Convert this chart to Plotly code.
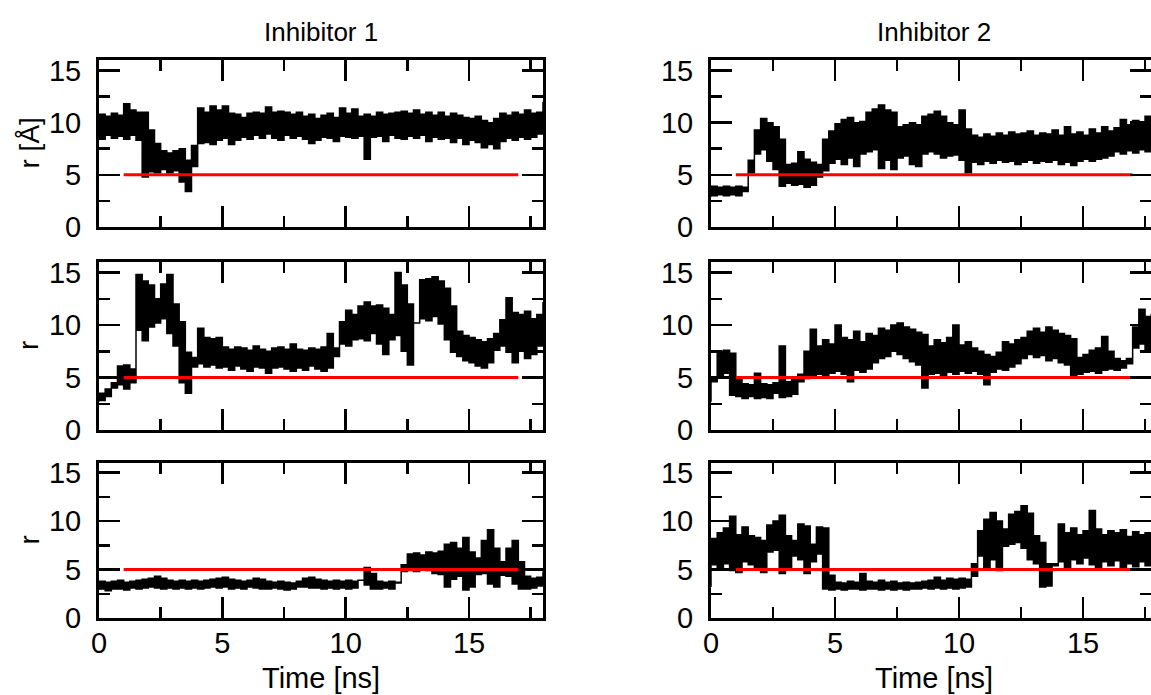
import numpy as np
import plotly.graph_objects as go

# Sampling grid (ns)
time_ns = np.round(np.arange(0, 18.001, 0.25), 2)

# Inhibitor 1, row 1 (r [Å]) lower / upper envelope of the noisy trace
inh1_r1_lo = [8.6, 8.4, 8.8, 8.5, 8.7, 8.4, 8.8, 8.3, 4.8, 5.3, 5.2, 5.5, 5.2, 5.4, 4.3, 3.4,
              7.8, 8.0, 8.1, 7.9, 8.3, 8.5, 7.9, 8.3, 8.6, 8.4, 8.8, 8.5, 8.9, 8.5, 8.3, 8.8,
              8.5, 8.7, 8.4, 8.0, 8.3, 8.6, 8.5, 8.2, 8.7, 8.6, 8.5, 8.7, 6.5, 8.6, 8.7, 8.2,
              8.8, 8.5, 8.4, 8.7, 8.5, 8.8, 8.2, 8.6, 8.4, 8.5, 8.1, 8.5, 7.9, 8.3, 8.1, 7.6,
              7.9, 7.5, 8.2, 8.5, 8.3, 8.6, 8.4, 8.6, 8.9]
inh1_r1_hi = [10.8, 10.6, 10.9, 10.7, 11.8, 11.2, 11.0, 11.0, 9.3, 8.0, 7.3, 7.1, 7.3, 7.5, 6.4, 5.8,
              11.4, 11.0, 11.6, 11.2, 11.6, 10.9, 10.8, 10.5, 10.9, 11.0, 10.9, 11.5, 11.0, 11.1, 11.0, 10.8,
              11.0, 10.6, 10.8, 10.4, 10.7, 10.9, 10.5, 11.4, 10.9, 11.3, 10.6, 10.8, 10.6, 11.0, 10.8, 10.9,
              11.0, 11.1, 10.9, 11.2, 10.8, 11.0, 10.7, 11.0, 10.6, 10.9, 10.7, 10.5, 10.4, 10.6, 10.2, 10.0,
              10.4, 10.9, 10.7, 11.0, 10.8, 11.2, 10.9, 11.0, 12.0]

# Inhibitor 1, row 2
inh1_r2_lo = [2.7, 2.8, 3.2, 4.0, 4.3, 3.9, 4.5, 9.5, 8.5, 9.8, 10.2, 10.6, 9.2, 8.0, 4.5, 3.5,
              6.0, 6.3, 6.0, 6.2, 5.9, 6.0, 5.7, 6.1, 5.8, 5.6, 6.0, 5.9, 5.4, 5.9, 6.0, 5.8,
              5.6, 5.9, 5.7, 6.1, 5.8, 5.6, 5.9, 7.0, 8.2, 8.0, 8.6, 8.7, 8.5, 9.2, 8.2, 7.2,
              8.6, 9.0, 7.5, 6.2, 10.2, 10.6, 10.4, 10.8, 10.1, 8.6, 7.4, 7.0, 6.6, 6.4, 6.1, 5.9,
              6.4, 7.6, 8.0, 7.4, 6.4, 7.5, 6.8, 7.2, 8.0]
inh1_r2_hi = [3.5, 3.9, 4.5, 6.1, 6.2, 5.8, 14.8, 14.2, 13.8, 12.5, 13.9, 14.8, 12.0, 10.3, 7.4, 6.9,
              9.7, 8.8, 8.7, 8.8, 7.9, 7.7, 7.9, 7.8, 7.6, 8.0, 7.7, 7.5, 7.8, 7.9, 7.7, 8.2,
              7.7, 7.6, 7.8, 7.7, 7.9, 9.2, 7.8, 10.3, 11.4, 11.0, 11.8, 12.2, 11.8, 11.9, 11.6, 11.0,
              15.0, 13.8, 12.0, 10.2, 14.3, 14.4, 14.6, 14.2, 13.5, 11.8, 9.4, 9.0, 8.8, 8.6, 8.4, 8.7,
              9.2, 10.5, 12.6, 11.2, 11.0, 11.3, 10.6, 11.0, 12.2]

# Inhibitor 1, row 3
inh1_r3_lo = [2.9, 3.0, 2.8, 3.0, 3.0, 2.9, 3.1, 3.0, 3.1, 3.2, 3.1, 3.0, 3.1, 3.0, 3.1, 3.0,
              3.1, 3.0, 3.1, 3.2, 3.1, 3.2, 3.0, 3.1, 3.0, 3.2, 3.1, 3.0, 3.0, 3.1, 3.0, 2.9,
              3.0, 3.2, 3.2, 3.1, 3.1, 3.0, 3.1, 3.0, 3.1, 3.0, 3.1, 3.9, 3.4, 3.0, 3.0, 3.1,
              3.0, 3.6, 4.8, 4.9, 4.8, 5.0, 4.9, 4.6, 4.5, 3.2, 4.0, 4.3, 2.9, 3.2, 4.5, 4.6,
              3.5, 3.2, 4.4, 4.3, 3.5, 3.0, 3.0, 3.1, 3.3]
inh1_r3_hi = [3.8, 3.7, 3.8, 3.9, 3.7, 3.8, 3.9, 4.0, 4.1, 4.3, 4.1, 3.9, 3.8, 3.9, 3.8, 3.9,
              3.8, 3.9, 4.0, 4.1, 4.2, 4.0, 3.9, 3.8, 3.9, 4.1, 4.0, 3.8, 3.7, 3.8, 3.7, 3.6,
              3.8, 4.1, 4.2, 4.0, 3.9, 3.8, 3.9, 3.8, 3.9, 3.8, 3.9, 5.2, 4.6, 3.8, 3.7, 3.8,
              3.7, 5.5, 6.6, 6.7, 6.5, 6.8, 6.7, 6.9, 7.6, 7.8, 7.2, 8.3, 6.8, 6.2, 8.0, 9.1,
              7.2, 5.8, 7.2, 8.0, 5.8, 4.3, 4.1, 4.2, 4.8]

# Inhibitor 2, row 1
inh2_r1_lo = [2.9, 3.0, 3.1, 3.0, 3.1, 3.0, 3.4, 6.4, 7.0, 7.4, 6.3, 5.5, 3.9, 4.2, 4.0, 4.1,
              3.8, 4.0, 4.8, 5.4, 6.1, 6.5, 6.0, 6.6, 5.8, 7.0, 7.2, 7.4, 5.6, 6.4, 5.5, 6.6,
              6.8, 6.0, 5.8, 7.0, 7.2, 7.0, 6.6, 6.8, 6.9, 6.4, 5.2, 6.2, 6.0, 6.3, 6.1, 6.4,
              6.2, 6.3, 6.0, 6.2, 6.4, 6.1, 6.3, 6.2, 6.4, 6.0, 6.2, 5.9, 6.3, 6.5, 6.3, 6.5,
              6.6, 6.8, 7.2, 7.0, 7.3, 7.1, 7.4, 7.2, 7.3]
inh2_r1_hi = [3.9, 3.8, 3.9, 3.8, 3.9, 3.8, 5.2, 9.3, 10.4, 10.0, 9.6, 8.4, 6.0, 6.1, 7.2, 6.5,
              6.2, 6.0, 8.4, 9.2, 9.9, 10.3, 10.5, 10.0, 10.1, 11.0, 11.3, 11.7, 11.2, 11.0, 9.6, 9.8,
              10.0, 9.8, 10.6, 10.8, 11.1, 10.6, 10.0, 9.8, 11.2, 9.4, 8.8, 8.6, 8.9, 8.7, 9.0, 8.8,
              9.1, 8.9, 9.0, 9.2, 8.8, 9.0, 8.9, 9.3, 8.8, 9.6, 8.9, 9.1, 8.8, 9.4, 9.0, 9.6,
              9.2, 9.5, 10.3, 9.8, 10.2, 9.9, 10.6, 10.0, 10.2]

# Inhibitor 2, row 2
inh2_r2_lo = [2.7, 4.8, 5.2, 5.4, 3.3, 3.2, 3.0, 3.2, 3.0, 3.1, 3.0, 3.5, 3.1, 3.2, 3.4, 4.6,
              4.9, 5.1, 5.3, 5.0, 5.4, 5.6, 5.3, 4.6, 5.7, 5.5, 5.8, 6.4, 6.8, 7.0, 7.5, 7.2,
              6.8, 6.5, 6.2, 4.0, 5.3, 5.4, 5.2, 5.5, 5.3, 5.6, 5.4, 5.6, 5.3, 4.3, 5.5, 5.8,
              5.7, 6.0, 6.3, 6.8, 7.2, 6.9, 7.1, 6.6, 6.8, 6.4, 6.2, 5.1, 5.3, 5.5, 5.6, 5.4,
              5.7, 5.8, 5.7, 5.9, 6.3, 7.8, 8.2, 7.5, 8.0]
inh2_r2_hi = [4.6, 7.5, 7.6, 7.3, 4.8, 4.4, 4.3, 5.4, 4.4, 4.3, 4.5, 8.0, 4.6, 4.9, 5.3, 7.5,
              9.6, 8.0, 8.6, 8.2, 10.0, 8.8, 8.6, 9.4, 8.4, 9.2, 9.0, 9.7, 9.5, 10.0, 10.2, 9.8,
              9.6, 9.3, 9.1, 8.0, 8.6, 8.3, 8.8, 10.0, 8.1, 8.4, 7.8, 7.5, 7.2, 7.0, 7.4, 8.4,
              8.2, 8.6, 8.8, 9.4, 9.7, 9.3, 9.8, 9.5, 9.2, 9.0, 8.7, 6.9, 7.2, 7.6, 7.8, 8.9,
              7.5, 6.8, 6.6, 6.8, 9.8, 11.5, 10.8, 11.0, 10.6]

# Inhibitor 2, row 3
inh2_r3_lo = [3.2, 5.5, 5.0, 5.6, 4.9, 4.7, 5.8, 5.5, 5.0, 4.7, 6.8, 7.0, 4.6, 5.2, 6.4, 6.0,
              4.6, 5.8, 6.6, 3.0, 2.9, 3.0, 2.9, 3.0, 3.0, 2.9, 3.0, 3.0, 2.9, 3.0, 2.9, 3.0,
              2.9, 3.0, 3.0, 3.1, 3.0, 3.1, 3.0, 3.1, 3.0, 3.1, 3.2, 5.6, 6.4, 5.2, 6.0, 4.9,
              7.4, 7.6, 7.8, 7.2, 6.0, 5.6, 3.2, 3.3, 5.6, 5.8, 5.1, 6.0, 5.6, 6.2, 5.5, 5.0,
              5.8, 5.4, 5.9, 5.2, 5.6, 5.3, 5.8, 5.4, 5.7]
inh2_r3_hi = [8.2, 8.8, 9.3, 10.5, 8.6, 9.4, 8.5, 8.3, 8.0, 9.6, 10.0, 10.6, 8.5, 8.0, 9.7, 9.5,
              7.6, 9.4, 9.3, 4.4, 3.7, 3.6, 3.8, 3.7, 4.6, 3.8, 3.7, 3.9, 3.7, 3.8, 3.6, 3.7,
              3.6, 3.7, 3.8, 3.9, 4.2, 3.9, 4.1, 4.0, 4.1, 4.0, 4.3, 9.0, 10.2, 10.9, 10.0, 9.2,
              10.7, 11.0, 11.6, 10.8, 8.5, 7.8, 5.6, 5.4, 9.7, 8.8, 9.3, 8.6, 9.0, 11.1, 9.2, 8.6,
              9.0, 8.8, 9.1, 8.4, 8.9, 8.6, 8.8, 8.5, 8.7]

# Reference level (red line)
ref_level = 5
ref_start, ref_end = 1, 17

panel_titles = ["Inhibitor 1", "Inhibitor 2"]
y_titles = ["r [Å]", "r", "r"]
x_title = "Time [ns]"

panels = [
    (1, 1, inh1_r1_lo, inh1_r1_hi), (1, 2, inh2_r1_lo, inh2_r1_hi),
    (2, 1, inh1_r2_lo, inh1_r2_hi), (2, 2, inh2_r2_lo, inh2_r2_hi),
    (3, 1, inh1_r3_lo, inh1_r3_hi), (3, 2, inh2_r3_lo, inh2_r3_hi),
]

W, H = 1151, 695
col_px = {1: (99, 543), 2: (711, 1151)}
row_px = {1: (60, 227), 2: (262, 430), 3: (463, 618)}
col_range = {1: [0, 18], 2: [0, 17.74]}

FONT = "Liberation Sans, Arial, Helvetica, sans-serif"

fig = go.Figure()
layout = dict(width=W, height=H, margin=dict(l=0, r=0, t=0, b=0, autoexpand=False),
              plot_bgcolor="white", paper_bgcolor="white", showlegend=False,
              font=dict(family=FONT, color="black"))

for idx, (r, c, lo, hi) in enumerate(panels, start=1):
    xa = "x" if idx == 1 else f"x{idx}"
    ya = "y" if idx == 1 else f"y{idx}"
    xs = list(time_ns) + list(time_ns[::-1])
    ys = list(hi) + list(lo[::-1])
    fig.add_trace(go.Scatter(x=xs, y=ys, mode="lines", fill="toself", fillcolor="black",
                             line=dict(color="black", width=1.5, shape="hv"), xaxis=xa, yaxis=ya,
                             hoverinfo="skip"))
    fig.add_trace(go.Scatter(x=[ref_start, ref_end], y=[ref_level, ref_level], mode="lines",
                             line=dict(color="#ff0000", width=3), xaxis=xa, yaxis=ya,
                             hoverinfo="skip"))
    x0, x1 = col_px[c]
    ytop, ybot = row_px[r]
    common = dict(ticks="inside", tickwidth=2.5, tickcolor="black", ticklen=21,
                  showline=True, linewidth=3, linecolor="black", mirror="ticks",
                  showgrid=False, zeroline=False, automargin=False,
                  tickfont=dict(family=FONT, size=29, color="black"),
                  minor=dict(ticks="inside", ticklen=11, tickwidth=2.5, tickcolor="black",
                             dtick=2.5, showgrid=False))
    layout["xaxis" if idx == 1 else f"xaxis{idx}"] = dict(
        common, domain=[x0 / W, x1 / W], range=col_range[c], tick0=0, dtick=5,
        anchor=ya, showticklabels=(r == 3), ticklabelstandoff=-3)
    layout["yaxis" if idx == 1 else f"yaxis{idx}"] = dict(
        common, domain=[1 - ybot / H, 1 - ytop / H], range=[0, 16], tick0=0, dtick=5,
        anchor=xa, ticklabelstandoff=9)

fig.update_layout(**layout)

ann = []
for c, t in zip([1, 2], panel_titles):
    x0, x1 = col_px[c]
    xc = (x0 + (1157 if c == 2 else x1)) / 2
    ann.append(dict(text=t, x=xc / W, y=1 - 32 / H, xref="paper", yref="paper",
                    showarrow=False, font=dict(family=FONT, size=26, color="black"),
                    xanchor="center", yanchor="middle"))
    ann.append(dict(text=x_title, x=xc / W, y=1 - 678 / H, xref="paper", yref="paper",
                    showarrow=False, font=dict(family=FONT, size=29, color="black"),
                    xanchor="center", yanchor="middle"))
for r, t in zip([1, 2, 3], y_titles):
    ytop, ybot = row_px[r]
    ann.append(dict(text=t, x=29 / W, y=1 - ((ytop + ybot) / 2) / H, xref="paper", yref="paper",
                    showarrow=False, textangle=-90, font=dict(family=FONT, size=28, color="black"),
                    xanchor="center", yanchor="middle"))
fig.update_layout(annotations=ann)

fig.write_html("out.html", config={"displayModeBar": False, "staticPlot": True},
               post_script="document.body.style.margin='0';document.body.style.overflow='hidden';")
